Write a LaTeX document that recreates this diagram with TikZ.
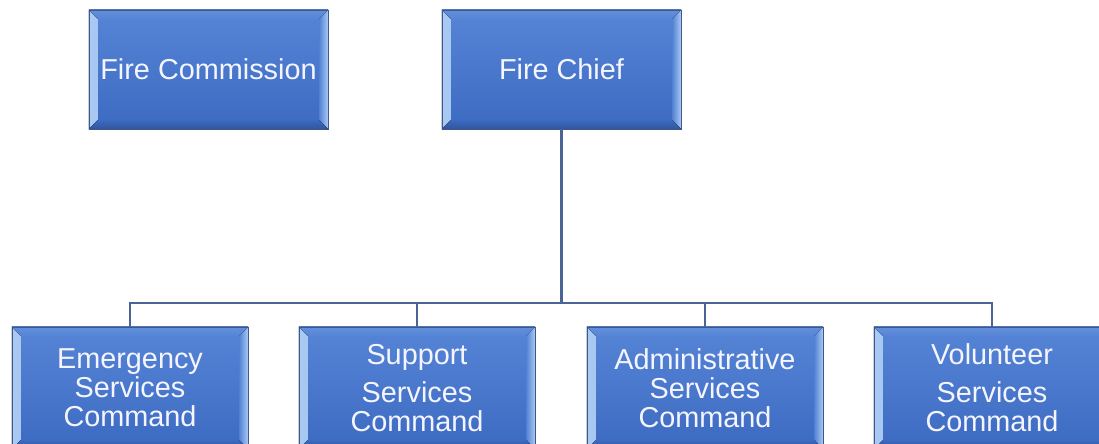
\documentclass[tikz,border=0pt]{standalone}
\usepackage{fontspec}
\setmainfont{Liberation Sans}
\usetikzlibrary{positioning}
\definecolor{boxtop}{RGB}{86,133,215}
\definecolor{boxbot}{RGB}{60,106,193}
\definecolor{bevlight}{RGB}{170,202,242}
\definecolor{boxline}{RGB}{62,88,140}
\definecolor{linkblue}{RGB}{74,100,150}
\def\bevd{0.22cm}
\tikzset{
	orgbox/.style={rectangle, inner sep=0pt, align=center, text=white!96!blue,
		minimum width=5.9cm, minimum height=3.05cm,
		top color=boxtop, bottom color=boxbot, draw=boxline, line width=0.5pt,
		font=\fontsize{20.5pt}{20.6pt}\selectfont,
		path picture={
			\fill[left color=bevlight, right color=boxtop!90!boxbot] (path picture bounding box.south west) -- (path picture bounding box.north west) -- ([shift={(\bevd,-\bevd)}]path picture bounding box.north west) -- ([shift={(\bevd,\bevd)}]path picture bounding box.south west) -- cycle;
			\fill[left color=boxtop!90!boxbot, right color=bevlight] (path picture bounding box.south east) -- (path picture bounding box.north east) -- ([shift={(-\bevd,-\bevd)}]path picture bounding box.north east) -- ([shift={(-\bevd,\bevd)}]path picture bounding box.south east) -- cycle;
			\fill[top color=boxtop!92!white, bottom color=boxtop] (path picture bounding box.north west) -- (path picture bounding box.north east) -- ([shift={(-\bevd,-\bevd)}]path picture bounding box.north east) -- ([shift={(\bevd,-\bevd)}]path picture bounding box.north west) -- cycle;
			\fill[top color=boxbot, bottom color=boxbot!80!black] (path picture bounding box.south west) -- (path picture bounding box.south east) -- ([shift={(-\bevd,\bevd)}]path picture bounding box.south east) -- ([shift={(\bevd,\bevd)}]path picture bounding box.south west) -- cycle;
		}},
	topbox/.style={minimum width=5.975cm, minimum height=2.975cm},
	conn/.style={draw=linkblue, line width=1.1pt}
}

\begin{document}
\begin{tikzpicture}[x=0.025cm, y=-0.025cm]
\useasboundingbox (0,0) rectangle (1099,443);

\node[orgbox, topbox] (commission) at (208.5,69.5) {Fire Commission};
\node[orgbox, topbox] (chief) at (561.5,69.5) {Fire Chief};

\node[orgbox] (emergency) at (130,388) {Emergency\\Services\\Command};
\node[orgbox] (support) at (417,388) {Support\\[6.4pt]Services\\Command};
\node[orgbox] (admin) at (705,388) {Administrative\\Services\\Command};
\node[orgbox] (volunteer) at (992,388) {Volunteer\\[6.4pt]Services\\Command};

\coordinate (bus) at (561.5,303);
\draw[conn, line width=1.8pt] (chief.south) -- (bus);
\draw[conn] (emergency.north) |- (bus) -| (volunteer.north);
\draw[conn] (support.north) -- (support.north |- bus);
\draw[conn] (admin.north) -- (admin.north |- bus);
\end{tikzpicture}
\end{document}
